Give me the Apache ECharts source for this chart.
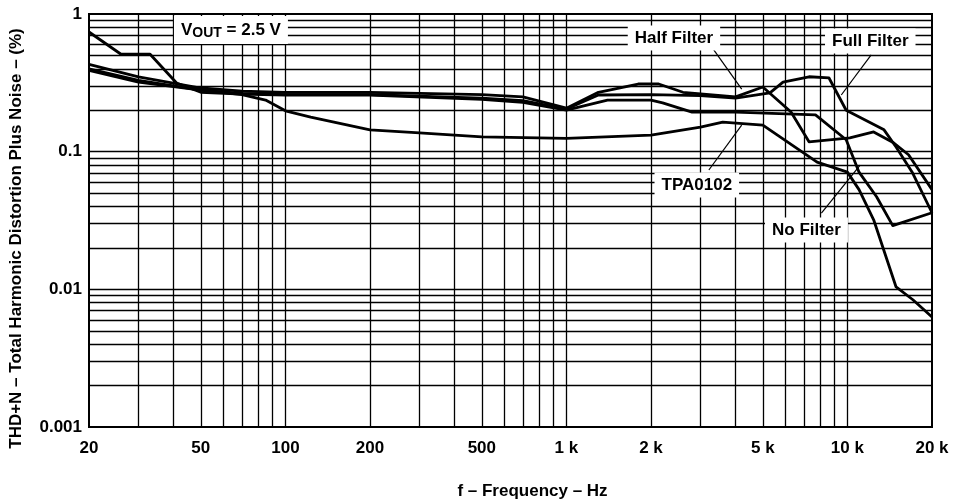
<!DOCTYPE html>
<html>
<head>
<meta charset="utf-8">
<script src="https://cdn.jsdelivr.net/npm/echarts@6/dist/echarts.min.js"></script>
<style>html,body{margin:0;padding:0;background:#fff}#c{width:955px;height:502px}</style>
</head>
<body>
<div id="c"></div>
<script>
// ---- data ----
const freqTPA = [20,30,50,70,85,100,123,200,300,500,1000,2000,3000,3600,5000,7800,10000,11000,12400,14900,17100,20000];
const thdTPA  = [0.40,0.33,0.28,0.26,0.237,0.198,0.178,0.144,0.137,0.128,0.125,0.132,0.151,0.164,0.156,0.084,0.071,0.053,0.032,0.0104,0.0084,0.0063];

const freqHalf = [20,30,50,70,100,200,500,700,1000,1300,1800,2130,2600,4000,5000,6300,7300,10200,12400,14600,16500,20000];
const thdHalf  = [0.43,0.35,0.29,0.275,0.27,0.27,0.26,0.25,0.207,0.27,0.31,0.31,0.27,0.25,0.295,0.194,0.118,0.126,0.139,0.116,0.095,0.053];

const freqFull = [20,30,50,70,100,200,500,700,1000,1300,2000,3000,4000,5300,5900,7300,8600,9900,13500,14900,17000,20000];
const thdFull  = [0.39,0.32,0.28,0.265,0.26,0.26,0.245,0.235,0.204,0.258,0.26,0.255,0.245,0.267,0.32,0.35,0.343,0.2,0.144,0.108,0.071,0.036];

const freqNo = [20,26,33,41,50,70,100,200,500,700,1000,1400,2000,2200,2800,4000,7700,9900,11000,12700,14500,20000];
const thdNo  = [0.74,0.51,0.51,0.315,0.27,0.262,0.258,0.258,0.24,0.228,0.2,0.237,0.237,0.226,0.194,0.194,0.185,0.122,0.071,0.047,0.029,0.036];

const xTickVals = [20,50,100,200,500,1000,2000,5000,10000,20000];
const xTickText = ['20','50','100','200','500','1 k','2 k','5 k','10 k','20 k'];
const yTickVals = [0.001,0.01,0.1,1];
const yTickText = ['0.001','0.01','0.1','1'];

const xGridVals = [30,40,50,60,70,80,90,100,200,300,400,500,600,700,800,900,1000,2000,3000,4000,5000,6000,7000,8000,9000,10000];
const yGridVals = [0.002,0.003,0.004,0.005,0.006,0.007,0.008,0.009,0.01,0.02,0.03,0.04,0.05,0.06,0.07,0.08,0.09,0.1,0.2,0.3,0.4,0.5,0.6,0.7,0.8,0.9];

// ---- annotations ----
const labels = [
  {name:'vout', coord:[64,0.765], text:'{v|V}{s|OUT}{v| = 2.5 V}'},
  {name:'half', coord:[2414,0.67], text:'{v|Half Filter}'},
  {name:'full', coord:[12060,0.637], text:'{v|Full Filter}'},
  {name:'tpa',  coord:[2911,0.0573], text:'{v|TPA0102}'},
  {name:'no',   coord:[7150,0.027], text:'{v|No Filter}'}
];
const arrows = [
  [[3345,0.548],[4205,0.285]],
  [[12150,0.504],[9510,0.258]],
  [[3213,0.0736],[4205,0.156]],
  [[8080,0.0358],[11100,0.080]]
];

const FONT = '"Liberation Sans", Arial, Helvetica, sans-serif';
const zip = (a,b) => a.map((v,i)=>[v,b[i]]);

const chart = echarts.init(document.getElementById('c'), null, {renderer:'canvas'});

function curve(name, f, v){
  return {
    name, type:'line', data: zip(f,v), showSymbol:false, symbol:'none', z:3,
    lineStyle:{color:'#000', width:2.8, join:'round'}, silent:true, animation:false
  };
}

const option = {
  animation:false,
  backgroundColor:'#fff',
  grid:{left:89, right:23, top:14, bottom:75, outerBoundsMode:'none', containLabel:false,
        show:true, borderColor:'#000', borderWidth:2, backgroundColor:'transparent'},
  xAxis:{
    type:'log', logBase:10, min:20, max:20000,
    axisLine:{show:true, lineStyle:{color:'#000', width:2}},
    axisTick:{show:false},
    splitLine:{show:false},
    axisLabel:{
      customValues:xTickVals, margin:13,
      color:'#000', fontFamily:FONT, fontWeight:'bold', fontSize:17,
      formatter:(val)=>{ const i = xTickVals.findIndex(t=>Math.abs(t-val)/t<1e-6); return i>=0?xTickText[i]:''; }
    },
    name:'f – Frequency – Hz', nameLocation:'middle', nameGap:56,
    nameTextStyle:{color:'#000', fontFamily:FONT, fontWeight:'bold', fontSize:17, padding:[0,0,0,44]}
  },
  yAxis:{
    type:'log', logBase:10, min:0.001, max:1,
    axisLine:{show:true, lineStyle:{color:'#000', width:2}},
    axisTick:{show:false},
    splitLine:{show:false},
    axisLabel:{
      customValues:yTickVals, margin:7,
      color:'#000', fontFamily:FONT, fontWeight:'bold', fontSize:17,
      formatter:(val)=>{ const i = yTickVals.findIndex(t=>Math.abs(t-val)/t<1e-6); return i>=0?yTickText[i]:''; }
    },
    name:'THD+N – Total Harmonic Distortion Plus Noise – (%)', nameLocation:'middle', nameGap:64, nameRotate:90,
    nameTextStyle:{color:'#000', fontFamily:FONT, fontWeight:'bold', fontSize:17, padding:[0,36,0,0]}
  },
  series:[
    {
      name:'grid', type:'line', data:[], z:1, silent:true,
      markLine:{
        silent:true, symbol:['none','none'], animation:false, precision:6,
        label:{show:false},
        lineStyle:{color:'#000', width:1.3, type:'solid'},
        data: xGridVals.map(v=>({xAxis:v})).concat(yGridVals.map(v=>({yAxis:v})))
      }
    },
    curve('TPA0102', freqTPA, thdTPA),
    curve('Half Filter', freqHalf, thdHalf),
    curve('Full Filter', freqFull, thdFull),
    curve('No Filter', freqNo, thdNo),
    {
      name:'annot', type:'line', data:[], z:6, silent:true,
      markLine:{
        silent:true, symbol:['none','arrow'], symbolSize:[0,13], animation:false, precision:6,
        label:{show:false},
        lineStyle:{color:'#000', width:1.2, type:'solid'},
        data: arrows.map(a=>[{coord:a[0]},{coord:a[1]}])
      },
      markPoint:{
        silent:true, animation:false, symbol:'rect', symbolSize:1,
        itemStyle:{color:'rgba(0,0,0,0)'},
        label:{
          show:true, position:'inside', backgroundColor:'#fff', padding:[4,7],
          rich:{
            v:{fontFamily:FONT, fontWeight:'bold', fontSize:17, color:'#000'},
            s:{fontFamily:FONT, fontWeight:'bold', fontSize:14, color:'#000', padding:[6,0,0,0]}
          }
        },
        data: labels.map(l=>({name:l.name, coord:l.coord, label:{formatter:l.text}}))
      }
    }
  ]
};
chart.setOption(option);
</script>
</body>
</html>
